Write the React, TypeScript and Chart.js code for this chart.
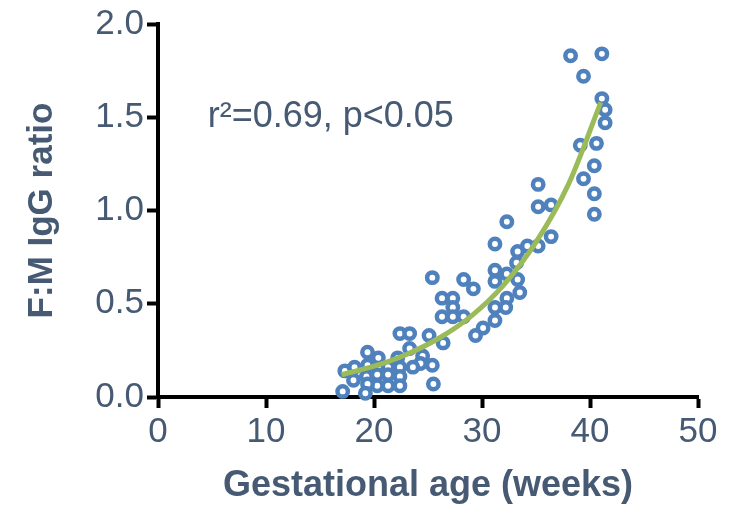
import React, { useEffect, useRef } from "react";
import { Chart, registerables } from "chart.js";

Chart.register(...registerables);

// Scatter data: gestational age (weeks) and F:M IgG ratio
const gestAge = [
  38.2, 41.1, 39.4, 41.1, 41.4, 41.4, 39.1, 40.6, 40.4, 39.4, 40.4, 40.4,
  35.2, 35.2, 36.4, 36.4, 35.2, 34.2, 33.3,
  32.3, 31.2, 33.2, 31.2, 31.2, 32.3, 33.3, 33.5,
  28.3, 29.2, 32.3, 31.2, 32.2, 31.2, 30.1, 29.4,
  25.4, 26.3, 27.3, 27.3, 26.3, 27.3, 28.3,
  22.4, 23.3, 25.1, 26.4, 23.3, 24.5,
  19.4, 20.4, 22.2, 25.4, 24.3, 23.6,
  17.3, 18.2, 19.4, 21.3, 22.4,
  18.1, 19.3, 20.3, 21.3, 22.4,
  20.3, 21.3, 22.4, 19.4, 17.1, 19.2, 25.5,
];
const ratio = [
  1.83, 1.84, 1.72, 1.6, 1.54, 1.47, 1.35, 1.36, 1.24, 1.17, 1.09, 0.98,
  1.14, 1.02, 1.03, 0.86, 0.81, 0.81, 0.78,
  0.94, 0.82, 0.72, 0.68, 0.62, 0.66, 0.63, 0.56,
  0.63, 0.58, 0.53, 0.48, 0.48, 0.41, 0.37, 0.33,
  0.64, 0.53, 0.53, 0.48, 0.43, 0.43, 0.43,
  0.34, 0.34, 0.33, 0.29, 0.26, 0.22,
  0.24, 0.21, 0.21, 0.17, 0.18, 0.16,
  0.14, 0.16, 0.17, 0.16, 0.16,
  0.09, 0.11, 0.12, 0.12, 0.11,
  0.06, 0.06, 0.06, 0.07, 0.03, 0.02, 0.07,
];

// Fitted curve
const fitAge = [17, 20, 23, 26, 29, 32, 35, 38, 41];
const fitRatio = [0.12, 0.165, 0.228, 0.315, 0.434, 0.6, 0.83, 1.14, 1.58];

const xTicks = [0, 10, 20, 30, 40, 50];
const yTicks = [0, 0.5, 1.0, 1.5, 2.0];

const annotationText = "r\u00B2=0.69, p<0.05";
const annotationAt = { x: 4.6, y: 1.5 };

const TEXT = "#475a73";
const FONT = "'Liberation Sans', Arial, sans-serif";

export default function App() {
  const ref = useRef<HTMLCanvasElement | null>(null);

  useEffect(() => {
    if (!ref.current) return;
    const annotate = {
      id: "annotate",
      afterDatasetsDraw(chart: any) {
        const { ctx, scales } = chart;
        ctx.save();
        ctx.fillStyle = TEXT;
        ctx.font = `36px ${FONT}`;
        ctx.textAlign = "left";
        ctx.textBaseline = "middle";
        ctx.fillText(
          annotationText,
          scales.x.getPixelForValue(annotationAt.x),
          scales.y.getPixelForValue(annotationAt.y)
        );
        ctx.restore();
      },
    };

    const chart = new Chart(ref.current, {
      type: "scatter",
      data: {
        datasets: [
          {
            type: "line",
            data: fitAge.map((x, i) => ({ x, y: fitRatio[i] })),
            borderColor: "#9bbb59",
            borderWidth: 5,
            pointRadius: 0,
            fill: false,
            cubicInterpolationMode: "monotone",
            order: 0,
          } as any,
          {
            type: "scatter",
            data: gestAge.map((x, i) => ({ x, y: ratio[i] })),
            borderColor: "#4f81bd",
            backgroundColor: "#ffffff",
            borderWidth: 4.5,
            pointRadius: 5.2,
            pointHoverRadius: 5.2,
            clip: false,
            order: 1,
          } as any,
        ],
      },
      options: {
        animation: false,
        responsive: false,
        devicePixelRatio: 1,
        events: [],
        layout: { padding: { top: 23, right: 40, left: 0, bottom: 0 } },
        plugins: { legend: { display: false }, tooltip: { enabled: false } },
        scales: {
          x: {
            type: "linear",
            min: 0,
            max: 50,
            afterFit(scale: any) {
              scale.height = 114;
            },
            afterBuildTicks(scale: any) {
              scale.ticks = xTicks.map((v) => ({ value: v }));
            },
            ticks: {
              color: TEXT,
              font: { family: FONT, size: 35 },
              padding: 3,
              maxRotation: 0,
              callback: (v: any) => String(v),
            },
            grid: {
              display: true,
              drawOnChartArea: false,
              drawTicks: true,
              tickLength: 11,
              tickWidth: 4,
              tickColor: "#000000",
            },
            border: { display: true, color: "#000000", width: 4 },
            title: {
              display: true,
              text: "Gestational age (weeks)",
              color: TEXT,
              font: { family: FONT, size: 36, weight: "bold" },
              padding: { top: 0, bottom: 3 },
            },
          },
          y: {
            type: "linear",
            min: 0,
            max: 2,
            afterFit(scale: any) {
              scale.width = 158;
            },
            afterBuildTicks(scale: any) {
              scale.ticks = yTicks.map((v) => ({ value: v }));
            },
            ticks: {
              color: TEXT,
              font: { family: FONT, size: 35 },
              padding: 3,
              callback: (v: any) => Number(v).toFixed(1),
            },
            grid: {
              display: true,
              drawOnChartArea: false,
              drawTicks: true,
              tickLength: 11,
              tickWidth: 4,
              tickColor: "#000000",
            },
            border: { display: true, color: "#000000", width: 4 },
            title: {
              display: true,
              text: "F:M IgG ratio",
              color: TEXT,
              font: { family: FONT, size: 35, weight: "bold" },
              padding: { top: 21, bottom: 0 },
            },
          },
        },
      } as any,
      plugins: [annotate],
    });
    return () => chart.destroy();
  }, []);

  return (
    <div style={{ position: "absolute", left: 0, top: 0, width: 738, height: 511, background: "#fff" }}>
      <canvas ref={ref} width={738} height={511} style={{ width: 738, height: 511 }} />
    </div>
  );
}
